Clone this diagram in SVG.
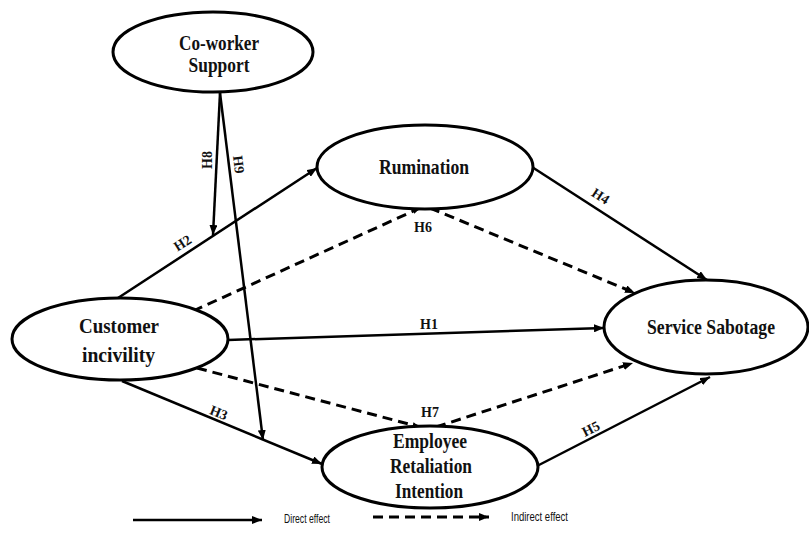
<svg xmlns="http://www.w3.org/2000/svg" width="809" height="534" viewBox="0 0 809 534">
<defs>
<marker id="ah" viewBox="0 0 10 8" refX="10" refY="4" markerWidth="10" markerHeight="8" markerUnits="userSpaceOnUse" orient="auto"><path d="M0,0 L10,4 L0,8 z" fill="#000"/></marker>
<marker id="ahs" viewBox="0 0 10 8" refX="10" refY="4" markerWidth="8" markerHeight="6" markerUnits="userSpaceOnUse" orient="auto"><path d="M0,0 L10,4 L0,8 z" fill="#000"/></marker>
</defs>
<style>
.node{fill:#fff;stroke:#000;stroke-width:3}
.nt{font-family:"Liberation Serif","Times New Roman",serif;font-weight:bold;font-size:21px;fill:#111;text-anchor:middle}
.lbl{font-family:"Liberation Serif","Times New Roman",serif;font-weight:bold;font-size:14px;fill:#111;text-anchor:middle}
.solid{stroke:#000;stroke-width:2.5;fill:none}
.dash{stroke:#000;stroke-width:3;fill:none;stroke-dasharray:10 6}
.leg{font-family:"Liberation Sans",Arial,sans-serif;font-size:13px;fill:#111}
</style>
<rect width="809" height="534" fill="#fff"/>
<g id="connectors">
<line class="solid" x1="220" y1="93" x2="213" y2="235" marker-end="url(#ah)"/>
<line class="solid" x1="220" y1="93" x2="263" y2="440" marker-end="url(#ah)"/>
<line class="solid" x1="118" y1="298" x2="317" y2="168" marker-end="url(#ah)"/>
<line class="solid" x1="228" y1="340" x2="604" y2="328" marker-end="url(#ah)"/>
<line class="solid" x1="122" y1="381" x2="322" y2="464" marker-end="url(#ah)"/>
<line class="solid" x1="532" y1="167" x2="707" y2="280" marker-end="url(#ah)"/>
<line class="solid" x1="537" y1="466" x2="710" y2="377" marker-end="url(#ah)"/>
<line class="dash" x1="193" y1="311" x2="420" y2="208" marker-end="url(#ahs)"/>
<line class="dash" x1="430" y1="208" x2="635" y2="293" marker-end="url(#ah)"/>
<line class="dash" x1="197" y1="368" x2="420" y2="427" marker-end="url(#ahs)"/>
<line class="dash" x1="436" y1="427" x2="633" y2="363" marker-end="url(#ah)"/>
<text class="lbl" transform="translate(185,247) rotate(-33)">H2</text>
<text class="lbl" transform="translate(217,417) rotate(22)">H3</text>
<text class="lbl" transform="translate(598,200) rotate(33)">H4</text>
<text class="lbl" transform="translate(593,433) rotate(-27)">H5</text>
<text class="lbl" x="429" y="329">H1</text>
<text class="lbl" x="423" y="232">H6</text>
<text class="lbl" x="430" y="417">H7</text>
<text class="lbl" transform="translate(212,160) rotate(-90)">H8</text>
<text class="lbl" transform="translate(234,165) rotate(83)">H9</text>
</g>
<g id="coworker">
<ellipse class="node" cx="213" cy="52" rx="100" ry="40"/>
<text class="nt" x="219" y="50" textLength="80" lengthAdjust="spacingAndGlyphs">Co-worker</text>
<text class="nt" x="219" y="72" textLength="61" lengthAdjust="spacingAndGlyphs">Support</text>
</g>
<g id="rumination">
<ellipse class="node" cx="425" cy="167" rx="108" ry="42"/>
<text class="nt" x="424" y="174" textLength="90" lengthAdjust="spacingAndGlyphs">Rumination</text>
</g>
<g id="customer">
<ellipse class="node" cx="120" cy="339" rx="108" ry="41"/>
<text class="nt" x="119" y="333" textLength="80" lengthAdjust="spacingAndGlyphs">Customer</text>
<text class="nt" x="118.5" y="362" textLength="73" lengthAdjust="spacingAndGlyphs">incivility</text>
</g>
<g id="retaliation">
<ellipse class="node" cx="430" cy="467" rx="108" ry="41"/>
<text class="nt" x="430" y="448" textLength="74" lengthAdjust="spacingAndGlyphs">Employee</text>
<text class="nt" x="431" y="473" textLength="82" lengthAdjust="spacingAndGlyphs">Retaliation</text>
<text class="nt" x="429" y="498" textLength="68" lengthAdjust="spacingAndGlyphs">Intention</text>
</g>
<g id="sabotage">
<ellipse class="node" cx="706" cy="327" rx="102" ry="47"/>
<text class="nt" x="711" y="334" textLength="128" lengthAdjust="spacingAndGlyphs">Service Sabotage</text>
</g>
<g id="legend">
<line class="solid" x1="133" y1="520" x2="262" y2="520" marker-end="url(#ah)"/>
<text class="leg" x="284" y="523" textLength="46" lengthAdjust="spacingAndGlyphs">Direct effect</text>
<line class="dash" x1="373" y1="517" x2="489" y2="517" marker-end="url(#ah)"/>
<text class="leg" x="511" y="521" textLength="57" lengthAdjust="spacingAndGlyphs">Indirect effect</text>
</g>
</svg>
